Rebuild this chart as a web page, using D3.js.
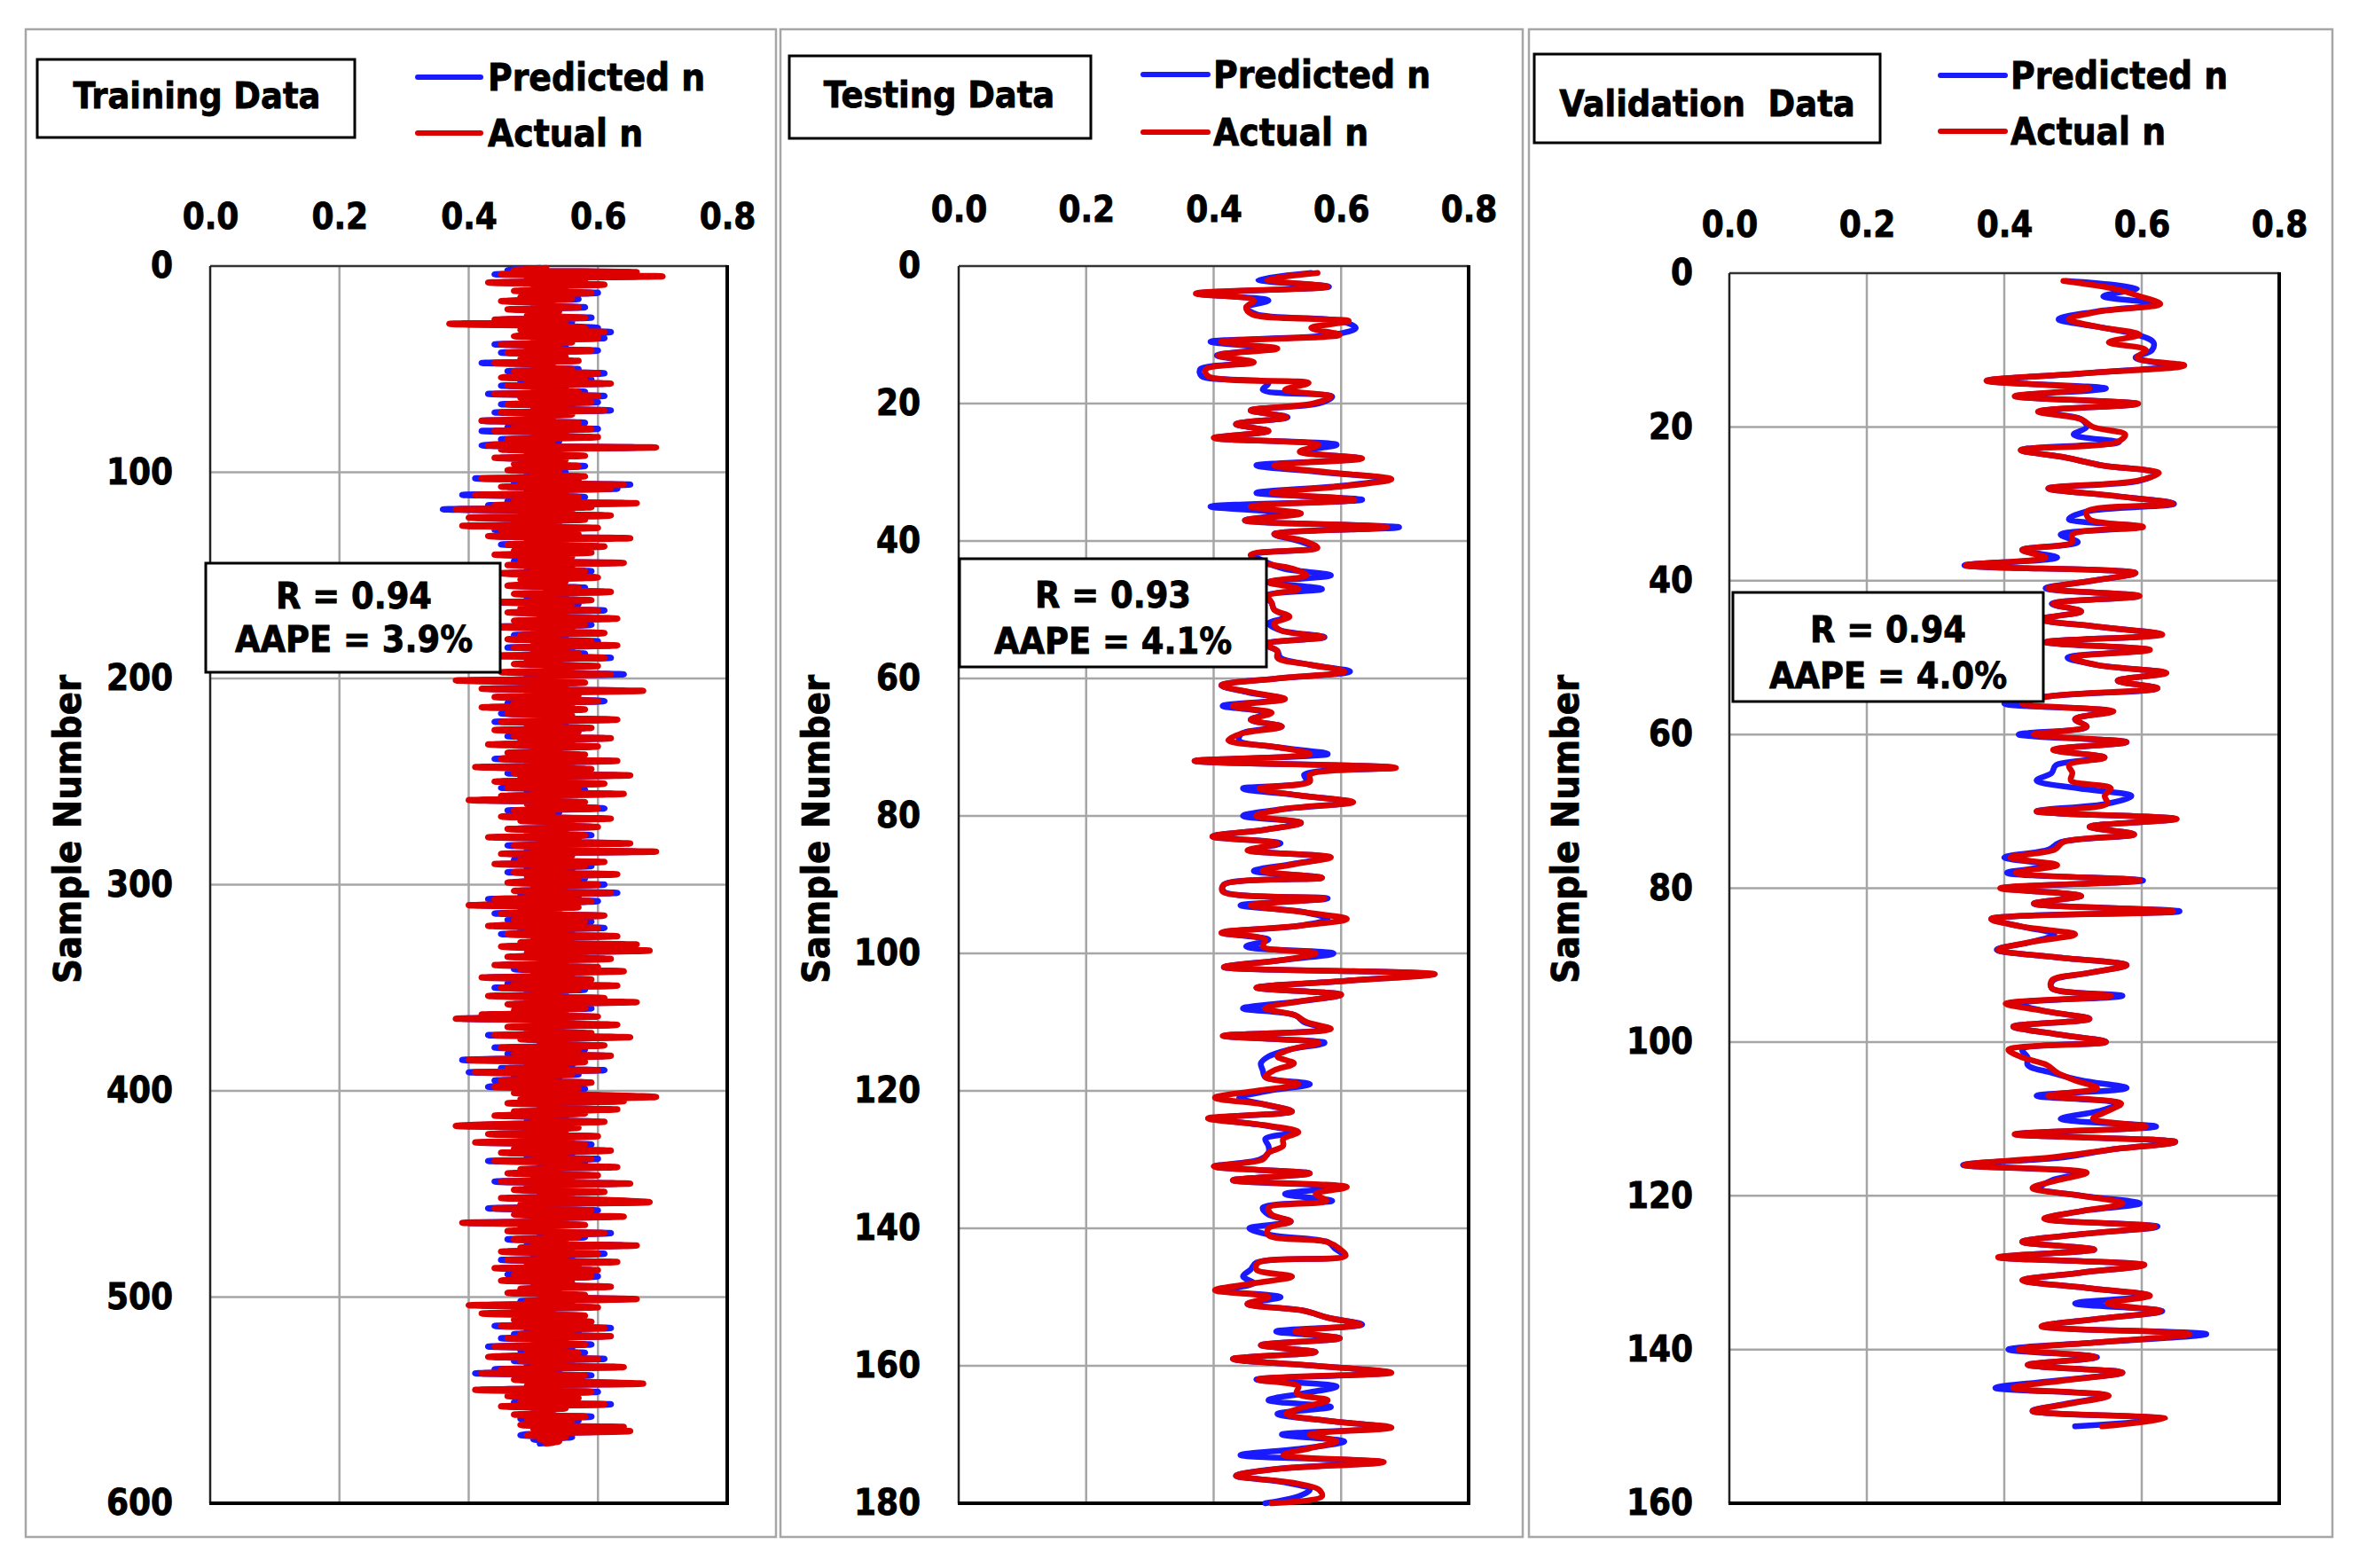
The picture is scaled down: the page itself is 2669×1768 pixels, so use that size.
<!DOCTYPE html>
<html>
<head>
<meta charset="utf-8">
<script src="https://cdn.jsdelivr.net/npm/d3@7/dist/d3.min.js"></script>
<style>
    body { margin: 0; background: #fff; }
    svg text {
        font-family: "DejaVu Sans Condensed", "DejaVu Sans", sans-serif;
        font-weight: bold;
        fill: #000;
        stroke: #000;
        stroke-width: 0.8px;
    }
</style>
</head>
<body>
<svg id="chart" width="2669" height="1768"></svg>
<script>
"use strict";

// ---- data ----
const xTicks = [0, 0.2, 0.4, 0.6, 0.8];
const trainYTicks = [0, 100, 200, 300, 400, 500, 600];
const testYTicks = [0, 20, 40, 60, 80, 100, 120, 140, 160, 180];
const validYTicks = [0, 20, 40, 60, 80, 100, 120, 140, 160];

const seriesNames = ["Predicted n", "Actual n"];
const panelTitles = ["Training Data", "Testing Data", "Validation  Data"];
const panelR = ["R = 0.94", "R = 0.93", "R = 0.94"];
const panelAAPE = ["AAPE = 3.9%", "AAPE = 4.1%", "AAPE = 4.0%"];

const trainActual = [
    0.52,0.47,0.66,0.45,0.70,0.49,0.58,0.43,0.61,0.50,0.55,0.47,0.59,0.52,0.48,0.56,0.45,0.53,0.50,0.57,0.46,0.54,0.51,0.49,0.58,0.44,0.55,0.37,0.52,0.58,
    0.48,0.61,0.53,0.47,0.60,0.50,0.56,0.45,0.54,0.49,0.59,0.46,0.52,0.55,0.48,0.57,0.44,0.53,0.50,0.56,0.47,0.60,0.51,0.45,0.58,0.49,0.62,0.46,0.54,0.50,
    0.57,0.44,0.60,0.48,0.53,0.59,0.46,0.55,0.50,0.61,0.45,0.56,0.49,0.53,0.42,0.57,0.51,0.47,0.59,0.44,0.55,0.50,0.60,0.46,0.53,0.48,0.43,0.69,0.45,0.52,
    0.49,0.58,0.44,0.55,0.51,0.47,0.57,0.52,0.46,0.54,0.50,0.58,0.42,0.56,0.48,0.64,0.45,0.62,0.50,0.55,0.41,0.57,0.53,0.47,0.66,0.44,0.59,0.38,0.56,0.49,
    0.62,0.40,0.58,0.47,0.54,0.39,0.60,0.45,0.53,0.57,0.43,0.65,0.49,0.55,0.46,0.61,0.51,0.47,0.59,0.44,0.56,0.52,0.48,0.64,0.46,0.55,0.50,0.58,0.45,0.53,
    0.60,0.48,0.55,0.51,0.46,0.57,0.53,0.62,0.47,0.54,0.50,0.59,0.45,0.56,0.52,0.48,0.60,0.46,0.55,0.51,0.63,0.47,0.53,0.58,0.44,0.56,0.50,0.61,0.48,0.54,
    0.46,0.59,0.51,0.63,0.47,0.55,0.50,0.57,0.44,0.61,0.49,0.54,0.47,0.60,0.52,0.56,0.45,0.62,0.50,0.53,0.38,0.58,0.48,0.55,0.42,0.67,0.49,0.57,0.44,0.53,
    0.60,0.47,0.55,0.42,0.58,0.50,0.46,0.56,0.52,0.63,0.45,0.54,0.49,0.59,0.44,0.57,0.51,0.47,0.62,0.48,0.56,0.43,0.60,0.50,0.54,0.46,0.58,0.52,0.45,0.63,
    0.49,0.56,0.41,0.59,0.51,0.47,0.65,0.48,0.55,0.44,0.61,0.52,0.46,0.57,0.50,0.64,0.45,0.54,0.40,0.58,0.49,0.55,0.60,0.47,0.53,0.51,0.45,0.62,0.48,0.56,
    0.52,0.60,0.46,0.55,0.49,0.58,0.43,0.57,0.51,0.65,0.47,0.54,0.50,0.69,0.45,0.56,0.52,0.48,0.61,0.44,0.58,0.50,0.55,0.47,0.63,0.49,0.57,0.52,0.46,0.60,
    0.50,0.55,0.47,0.62,0.49,0.56,0.44,0.59,0.52,0.40,0.57,0.48,0.54,0.45,0.61,0.51,0.47,0.58,0.53,0.43,0.60,0.49,0.55,0.46,0.63,0.50,0.56,0.48,0.66,0.45,
    0.54,0.68,0.49,0.58,0.46,0.62,0.51,0.55,0.44,0.60,0.48,0.64,0.50,0.56,0.42,0.59,0.52,0.47,0.63,0.45,0.57,0.50,0.54,0.43,0.61,0.49,0.66,0.46,0.53,0.58,
    0.47,0.55,0.42,0.60,0.38,0.56,0.50,0.63,0.46,0.54,0.49,0.59,0.44,0.65,0.48,0.55,0.51,0.61,0.45,0.57,0.50,0.47,0.62,0.53,0.40,0.58,0.49,0.55,0.46,0.60,
    0.41,0.56,0.48,0.53,0.45,0.59,0.50,0.44,0.57,0.52,0.47,0.60,0.69,0.48,0.64,0.46,0.55,0.51,0.63,0.47,0.58,0.44,0.54,0.50,0.61,0.46,0.38,0.57,0.49,0.55,
    0.43,0.60,0.48,0.56,0.41,0.58,0.51,0.47,0.62,0.45,0.55,0.50,0.59,0.44,0.57,0.52,0.63,0.48,0.54,0.46,0.60,0.50,0.56,0.45,0.65,0.49,0.53,0.47,0.61,0.51,
    0.56,0.45,0.62,0.68,0.48,0.55,0.44,0.59,0.51,0.47,0.64,0.50,0.55,0.39,0.58,0.48,0.53,0.46,0.61,0.52,0.57,0.47,0.54,0.50,0.66,0.48,0.56,0.45,0.60,0.51,
    0.55,0.46,0.63,0.49,0.57,0.44,0.60,0.51,0.47,0.59,0.53,0.45,0.56,0.50,0.62,0.48,0.54,0.46,0.58,0.51,0.66,0.49,0.55,0.40,0.60,0.47,0.53,0.42,0.58,0.50,
    0.47,0.59,0.53,0.45,0.61,0.50,0.56,0.48,0.62,0.46,0.54,0.51,0.58,0.44,0.55,0.49,0.57,0.52,0.43,0.60,0.48,0.55,0.50,0.64,0.45,0.53,0.42,0.58,0.51,0.47,
    0.56,0.67,0.49,0.54,0.41,0.59,0.50,0.46,0.57,0.52,0.48,0.61,0.45,0.55,0.50,0.53,0.47,0.58,0.49,0.56,0.51,0.48,0.64,0.50,0.65,0.53,0.49,0.55,0.51,0.54,
    0.52
];
const trainPredicted = [
    0.51,0.46,0.65,0.44,0.66,0.50,0.57,0.45,0.60,0.51,0.54,0.48,0.60,0.51,0.49,0.57,0.46,0.52,0.51,0.58,0.47,0.53,0.50,0.50,0.59,0.45,0.56,0.39,0.53,0.60,
    0.49,0.62,0.52,0.48,0.61,0.51,0.55,0.44,0.55,0.50,0.60,0.45,0.53,0.54,0.49,0.56,0.42,0.52,0.51,0.57,0.46,0.61,0.50,0.46,0.59,0.48,0.61,0.45,0.55,0.51,
    0.58,0.43,0.61,0.49,0.52,0.60,0.45,0.56,0.51,0.62,0.44,0.55,0.50,0.52,0.42,0.58,0.50,0.46,0.60,0.42,0.54,0.51,0.59,0.45,0.54,0.47,0.42,0.66,0.46,0.53,
    0.50,0.57,0.45,0.54,0.52,0.48,0.58,0.51,0.47,0.55,0.49,0.57,0.41,0.57,0.47,0.65,0.46,0.63,0.49,0.54,0.39,0.58,0.52,0.46,0.64,0.43,0.58,0.36,0.55,0.48,
    0.61,0.41,0.57,0.48,0.53,0.40,0.59,0.44,0.54,0.56,0.44,0.62,0.50,0.54,0.45,0.60,0.52,0.48,0.58,0.45,0.55,0.53,0.47,0.62,0.47,0.56,0.49,0.59,0.46,0.52,
    0.59,0.49,0.54,0.52,0.47,0.58,0.52,0.61,0.48,0.55,0.49,0.58,0.44,0.57,0.51,0.49,0.61,0.47,0.54,0.52,0.62,0.48,0.52,0.59,0.43,0.55,0.51,0.60,0.47,0.55,
    0.47,0.60,0.50,0.62,0.46,0.56,0.51,0.58,0.43,0.62,0.50,0.53,0.48,0.59,0.53,0.55,0.46,0.64,0.49,0.52,0.40,0.57,0.49,0.54,0.43,0.64,0.50,0.56,0.45,0.54,
    0.61,0.46,0.56,0.43,0.57,0.51,0.45,0.55,0.53,0.62,0.44,0.55,0.50,0.58,0.45,0.56,0.52,0.46,0.61,0.49,0.55,0.44,0.59,0.51,0.53,0.47,0.57,0.53,0.44,0.62,
    0.50,0.55,0.42,0.58,0.52,0.46,0.63,0.49,0.54,0.45,0.60,0.53,0.45,0.58,0.49,0.62,0.46,0.53,0.42,0.57,0.50,0.54,0.61,0.46,0.54,0.50,0.46,0.61,0.49,0.55,
    0.53,0.59,0.47,0.54,0.50,0.59,0.44,0.56,0.52,0.63,0.46,0.55,0.49,0.66,0.46,0.55,0.53,0.47,0.60,0.45,0.59,0.49,0.56,0.46,0.62,0.50,0.58,0.51,0.47,0.61,
    0.51,0.54,0.48,0.63,0.48,0.57,0.43,0.60,0.51,0.42,0.56,0.49,0.53,0.44,0.60,0.52,0.46,0.59,0.52,0.44,0.61,0.48,0.56,0.45,0.62,0.51,0.55,0.49,0.64,0.46,
    0.53,0.66,0.50,0.57,0.47,0.61,0.52,0.54,0.45,0.59,0.47,0.63,0.51,0.55,0.43,0.58,0.53,0.46,0.62,0.44,0.58,0.49,0.55,0.44,0.60,0.50,0.64,0.47,0.52,0.59,
    0.48,0.54,0.43,0.59,0.39,0.55,0.51,0.62,0.47,0.53,0.50,0.58,0.43,0.63,0.49,0.54,0.52,0.60,0.44,0.58,0.49,0.46,0.61,0.52,0.39,0.57,0.50,0.56,0.45,0.61,
    0.40,0.57,0.47,0.54,0.44,0.58,0.51,0.43,0.58,0.51,0.48,0.59,0.67,0.49,0.63,0.47,0.54,0.52,0.62,0.48,0.57,0.45,0.55,0.49,0.60,0.47,0.40,0.56,0.50,0.54,
    0.44,0.59,0.49,0.55,0.42,0.59,0.50,0.48,0.61,0.46,0.56,0.49,0.60,0.43,0.58,0.51,0.62,0.49,0.53,0.47,0.59,0.51,0.55,0.44,0.63,0.50,0.52,0.48,0.60,0.52,
    0.55,0.46,0.61,0.66,0.49,0.54,0.43,0.60,0.50,0.48,0.62,0.51,0.54,0.40,0.57,0.49,0.52,0.47,0.62,0.51,0.58,0.46,0.55,0.49,0.64,0.49,0.55,0.46,0.61,0.50,
    0.56,0.45,0.62,0.50,0.56,0.45,0.59,0.52,0.46,0.60,0.52,0.46,0.55,0.51,0.61,0.49,0.53,0.47,0.57,0.52,0.64,0.48,0.56,0.42,0.59,0.48,0.52,0.43,0.57,0.51,
    0.48,0.58,0.54,0.44,0.62,0.49,0.57,0.47,0.61,0.45,0.55,0.50,0.59,0.43,0.56,0.48,0.58,0.51,0.44,0.61,0.47,0.56,0.49,0.63,0.44,0.54,0.41,0.59,0.50,0.48,
    0.55,0.65,0.50,0.53,0.42,0.60,0.49,0.47,0.56,0.53,0.47,0.62,0.46,0.54,0.51,0.52,0.48,0.59,0.48,0.57,0.50,0.49,0.62,0.51,0.63,0.52,0.48,0.56,0.50,0.53,
    0.51
];

const testActual = [
    0.563,0.484,0.579,0.372,0.463,0.451,0.460,0.612,0.553,0.598,
    0.412,0.500,0.407,0.463,0.388,0.391,0.549,0.512,0.584,0.556,
    0.458,0.514,0.435,0.486,0.400,0.565,0.535,0.633,0.495,0.579,
    0.679,0.607,0.491,0.621,0.458,0.537,0.449,0.672,0.495,0.542,
    0.563,0.458,0.470,0.523,0.546,0.486,0.533,0.486,0.491,0.495,
    0.519,0.495,0.505,0.572,0.480,0.500,0.500,0.551,0.605,0.500,
    0.412,0.458,0.512,0.430,0.491,0.458,0.507,0.444,0.423,0.500,
    0.551,0.370,0.686,0.551,0.551,0.472,0.533,0.619,0.509,0.467,
    0.537,0.481,0.398,0.500,0.453,0.584,0.528,0.477,0.570,0.416,
    0.414,0.574,0.458,0.542,0.609,0.533,0.412,0.481,0.477,0.560,
    0.505,0.416,0.747,0.607,0.467,0.600,0.533,0.481,0.528,0.546,
    0.584,0.414,0.565,0.519,0.500,0.526,0.495,0.481,0.533,0.467,
    0.402,0.481,0.523,0.391,0.481,0.533,0.509,0.509,0.486,0.477,
    0.400,0.551,0.430,0.609,0.560,0.577,0.486,0.491,0.521,0.486,
    0.486,0.579,0.598,0.607,0.470,0.467,0.523,0.463,0.402,0.486,
    0.453,0.542,0.579,0.630,0.528,0.598,0.474,0.560,0.430,0.560,
    0.679,0.470,0.533,0.530,0.579,0.542,0.514,0.579,0.679,0.551,
    0.593,0.551,0.509,0.667,0.500,0.435,0.523,0.565,0.570,0.491
];
const testPredicted = [
    0.553,0.470,0.581,0.374,0.486,0.451,0.467,0.600,0.623,0.588,
    0.395,0.486,0.405,0.458,0.379,0.381,0.486,0.477,0.586,0.565,
    0.458,0.516,0.435,0.486,0.402,0.593,0.537,0.630,0.467,0.570,
    0.672,0.598,0.467,0.633,0.395,0.514,0.449,0.691,0.495,0.533,
    0.560,0.463,0.480,0.509,0.584,0.486,0.570,0.480,0.491,0.495,
    0.514,0.486,0.505,0.574,0.480,0.500,0.505,0.551,0.614,0.500,
    0.412,0.453,0.509,0.414,0.486,0.458,0.507,0.444,0.440,0.500,
    0.579,0.370,0.681,0.542,0.546,0.446,0.533,0.614,0.509,0.446,
    0.537,0.481,0.398,0.505,0.458,0.579,0.523,0.463,0.570,0.416,
    0.416,0.579,0.442,0.542,0.579,0.533,0.414,0.486,0.451,0.588,
    0.505,0.416,0.737,0.607,0.467,0.600,0.533,0.446,0.528,0.542,
    0.579,0.416,0.574,0.519,0.486,0.474,0.477,0.481,0.551,0.486,
    0.440,0.481,0.523,0.402,0.477,0.530,0.481,0.486,0.486,0.472,
    0.402,0.551,0.430,0.598,0.512,0.586,0.477,0.486,0.521,0.456,
    0.491,0.579,0.591,0.605,0.467,0.458,0.446,0.463,0.407,0.505,
    0.453,0.542,0.579,0.633,0.498,0.598,0.474,0.560,0.430,0.560,
    0.672,0.467,0.593,0.542,0.486,0.584,0.500,0.579,0.672,0.507,
    0.605,0.542,0.442,0.663,0.500,0.435,0.514,0.551,0.533,0.481
];

const validActual = [
    0.486,0.559,0.597,0.627,0.537,0.494,0.537,0.597,0.552,0.606,
    0.593,0.662,0.520,0.374,0.524,0.415,0.595,0.449,0.512,0.529,
    0.576,0.563,0.424,0.490,0.542,0.625,0.593,0.464,0.563,0.645,
    0.520,0.524,0.602,0.499,0.499,0.426,0.460,0.344,0.591,0.529,
    0.464,0.597,0.471,0.512,0.452,0.537,0.630,0.460,0.612,0.499,
    0.537,0.636,0.565,0.623,0.469,0.426,0.559,0.503,0.520,0.443,
    0.578,0.471,0.546,0.494,0.499,0.497,0.555,0.546,0.550,0.447,
    0.651,0.524,0.589,0.486,0.473,0.409,0.477,0.417,0.597,0.394,
    0.512,0.443,0.645,0.381,0.426,0.503,0.439,0.391,0.477,0.578,
    0.524,0.469,0.469,0.555,0.402,0.460,0.524,0.413,0.477,0.548,
    0.406,0.426,0.462,0.477,0.503,0.535,0.464,0.570,0.550,0.529,
    0.606,0.415,0.649,0.555,0.469,0.342,0.520,0.477,0.441,0.512,
    0.572,0.512,0.458,0.619,0.512,0.426,0.531,0.391,0.604,0.512,
    0.426,0.520,0.612,0.550,0.627,0.537,0.454,0.670,0.546,0.421,
    0.533,0.434,0.572,0.490,0.413,0.552,0.499,0.441,0.634,0.542
];
const validPredicted = [
    0.490,0.593,0.544,0.623,0.533,0.479,0.537,0.593,0.617,0.615,
    0.591,0.640,0.520,0.376,0.548,0.417,0.593,0.452,0.512,0.520,
    0.501,0.567,0.424,0.490,0.542,0.621,0.597,0.464,0.563,0.647,
    0.520,0.494,0.597,0.482,0.507,0.426,0.477,0.342,0.591,0.529,
    0.460,0.595,0.469,0.512,0.452,0.537,0.627,0.460,0.608,0.492,
    0.537,0.632,0.565,0.623,0.469,0.400,0.555,0.503,0.520,0.421,
    0.578,0.473,0.546,0.475,0.469,0.447,0.507,0.585,0.550,0.447,
    0.649,0.524,0.589,0.482,0.464,0.400,0.469,0.404,0.602,0.400,
    0.512,0.443,0.655,0.381,0.426,0.473,0.439,0.389,0.477,0.578,
    0.524,0.471,0.469,0.572,0.421,0.460,0.524,0.413,0.477,0.548,
    0.426,0.434,0.434,0.469,0.512,0.578,0.447,0.567,0.537,0.482,
    0.621,0.417,0.649,0.555,0.486,0.340,0.512,0.469,0.452,0.512,
    0.597,0.512,0.460,0.623,0.512,0.426,0.531,0.394,0.602,0.512,
    0.428,0.520,0.610,0.503,0.630,0.537,0.456,0.694,0.546,0.406,
    0.535,0.434,0.572,0.482,0.387,0.550,0.494,0.441,0.632,0.503
];

// ---- layout of the three panels ----
const panels = [
    {
        title: panelTitles[0], r: panelR[0], aape: panelAAPE[0],
        actual: trainActual, predicted: trainPredicted, yMax: 600, yTicks: trainYTicks,
        lineWidth: 7,
        border: [29, 33, 875, 1733],
        plot: { left: 237, right: 820, top: 300, bottom: 1695 },
        xGap: 42, yGap: 42,
        titleBox: { x: 42, y: 67, w: 358, h: 88, cx: 222, base: 122 },
        legend: { x1: 471, x2: 542, y1: 87, y2: 150, tx: 550 },
        statBox: { x: 232, y: 635, w: 332, h: 123, cx: 399, b1: 686, b2: 735 },
        axisTitle: { x: 76, y: 935 }
    },
    {
        title: panelTitles[1], r: panelR[1], aape: panelAAPE[1],
        actual: testActual, predicted: testPredicted, yMax: 180, yTicks: testYTicks,
        lineWidth: 6.5,
        border: [880, 33, 1717, 1733],
        plot: { left: 1081, right: 1656, top: 300, bottom: 1695 },
        xGap: 50, yGap: 43,
        titleBox: { x: 890, y: 63, w: 340, h: 93, cx: 1059, base: 121 },
        legend: { x1: 1289, x2: 1362, y1: 84, y2: 149, tx: 1368 },
        statBox: { x: 1082, y: 630, w: 346, h: 122, cx: 1255, b1: 685, b2: 737 },
        axisTitle: { x: 920, y: 935 }
    },
    {
        title: panelTitles[2], r: panelR[2], aape: panelAAPE[2],
        actual: validActual, predicted: validPredicted, yMax: 160, yTicks: validYTicks,
        lineWidth: 6.5,
        border: [1724, 33, 2630, 1733],
        plot: { left: 1950, right: 2570, top: 308, bottom: 1695 },
        xGap: 41, yGap: 41,
        titleBox: { x: 1730, y: 61, w: 390, h: 100, cx: 1925, base: 131 },
        legend: { x1: 2188, x2: 2261, y1: 85, y2: 148, tx: 2267 },
        statBox: { x: 1954, y: 668, w: 350, h: 123, cx: 2129, b1: 724, b2: 776 },
        axisTitle: { x: 1765, y: 935 }
    }
];

const BLUE = "#1a1aff";
const RED = "#dd0000";
const GRID = "#a6a6a6";
const FONT = "'DejaVu Sans Condensed', 'DejaVu Sans', sans-serif";

const svg = d3.select("#chart");

/** draw one panel */
function drawPanel(p) {
    const g = svg.append("g");
    const x = d3.scaleLinear().domain([0, 0.8]).range([p.plot.left, p.plot.right]);
    const y = d3.scaleLinear().domain([0, p.yMax]).range([p.plot.top, p.plot.bottom]);

    // outer frame
    g.append("rect")
        .attr("x", p.border[0]).attr("y", p.border[1])
        .attr("width", p.border[2] - p.border[0]).attr("height", p.border[3] - p.border[1])
        .style("fill", "none").style("stroke", GRID).style("stroke-width", 2.5);

    // grid
    g.selectAll(".vgrid").data(xTicks.slice(1, -1)).enter()
        .append("line")
        .attr("x1", d => x(d)).attr("x2", d => x(d))
        .attr("y1", p.plot.top).attr("y2", p.plot.bottom)
        .style("stroke", GRID).style("stroke-width", 2.5);
    g.selectAll(".hgrid").data(p.yTicks.slice(1, -1)).enter()
        .append("line")
        .attr("x1", p.plot.left).attr("x2", p.plot.right)
        .attr("y1", d => y(d)).attr("y2", d => y(d))
        .style("stroke", GRID).style("stroke-width", 2.5);

    // plot frame: thin top/left, heavy right/bottom
    g.append("line").attr("x1", p.plot.left).attr("x2", p.plot.right)
        .attr("y1", p.plot.top).attr("y2", p.plot.top)
        .style("stroke", "#333").style("stroke-width", 2.5);
    g.append("line").attr("x1", p.plot.left).attr("x2", p.plot.left)
        .attr("y1", p.plot.top).attr("y2", p.plot.bottom)
        .style("stroke", "#222").style("stroke-width", 2.5);
    g.append("line").attr("x1", p.plot.right).attr("x2", p.plot.right)
        .attr("y1", p.plot.top - 1).attr("y2", p.plot.bottom + 2)
        .style("stroke", "#000").style("stroke-width", 4);
    g.append("line").attr("x1", p.plot.left - 1).attr("x2", p.plot.right + 2)
        .attr("y1", p.plot.bottom).attr("y2", p.plot.bottom)
        .style("stroke", "#000").style("stroke-width", 4);

    // axes (labels only)
    const xAxis = d3.axisTop(x).tickValues(xTicks).tickFormat(d3.format(".1f"))
        .tickSize(0).tickPadding(p.xGap);
    g.append("g").attr("transform", "translate(0," + p.plot.top + ")").call(xAxis)
        .call(a => a.select(".domain").remove())
        .selectAll("text").style("font-size", "40px")
        .style("font-family", FONT).style("font-weight", "bold")
        .style("stroke", "#000").style("stroke-width", "0.8px");
    const yAxis = d3.axisLeft(y).tickValues(p.yTicks).tickFormat(d3.format("d"))
        .tickSize(0).tickPadding(p.yGap);
    g.append("g").attr("transform", "translate(" + p.plot.left + ",0)").call(yAxis)
        .call(a => a.select(".domain").remove())
        .selectAll("text").style("font-size", "40px")
        .style("font-family", FONT).style("font-weight", "bold")
        .style("stroke", "#000").style("stroke-width", "0.8px");

    // axis title
    g.append("text")
        .attr("transform", "translate(" + p.axisTitle.x + "," + p.axisTitle.y + ") rotate(-90)")
        .attr("text-anchor", "middle").attr("dy", "0.36em")
        .style("font-size", "43px")
        .text("Sample Number");

    // series
    const line = d3.line()
        .x(d => x(d))
        .y((d, i) => y(i + 1))
        .curve(d3.curveCatmullRom);
    g.append("path").datum(p.predicted).attr("d", line)
        .style("fill", "none").style("stroke", BLUE).style("stroke-width", p.lineWidth)
        .style("stroke-linejoin", "round").style("stroke-linecap", "round");
    g.append("path").datum(p.actual).attr("d", line)
        .style("fill", "none").style("stroke", RED).style("stroke-width", p.lineWidth)
        .style("stroke-linejoin", "round").style("stroke-linecap", "round");

    // title box
    g.append("rect")
        .attr("x", p.titleBox.x).attr("y", p.titleBox.y)
        .attr("width", p.titleBox.w).attr("height", p.titleBox.h)
        .style("fill", "#fff").style("stroke", "#000").style("stroke-width", 3);
    g.append("text")
        .attr("x", p.titleBox.cx).attr("y", p.titleBox.base)
        .attr("text-anchor", "middle")
        .style("font-size", "41px").style("white-space", "pre")
        .text(p.title);

    // legend
    const legendRows = [
        { name: seriesNames[0], color: BLUE, y: p.legend.y1 },
        { name: seriesNames[1], color: RED, y: p.legend.y2 }
    ];
    legendRows.forEach(row => {
        g.append("line")
            .attr("x1", p.legend.x1).attr("x2", p.legend.x2)
            .attr("y1", row.y).attr("y2", row.y)
            .style("stroke", row.color).style("stroke-width", 6)
            .style("stroke-linecap", "round");
        g.append("text")
            .attr("x", p.legend.tx).attr("y", row.y + 15)
            .style("font-size", "42px")
            .text(row.name);
    });

    // statistics box
    g.append("rect")
        .attr("x", p.statBox.x).attr("y", p.statBox.y)
        .attr("width", p.statBox.w).attr("height", p.statBox.h)
        .style("fill", "#fff").style("stroke", "#000").style("stroke-width", 3);
    g.append("text")
        .attr("x", p.statBox.cx).attr("y", p.statBox.b1)
        .attr("text-anchor", "middle").style("font-size", "41px")
        .text(p.r);
    g.append("text")
        .attr("x", p.statBox.cx).attr("y", p.statBox.b2)
        .attr("text-anchor", "middle").style("font-size", "41px")
        .text(p.aape);
}

panels.forEach(drawPanel);
</script>
</body>
</html>
